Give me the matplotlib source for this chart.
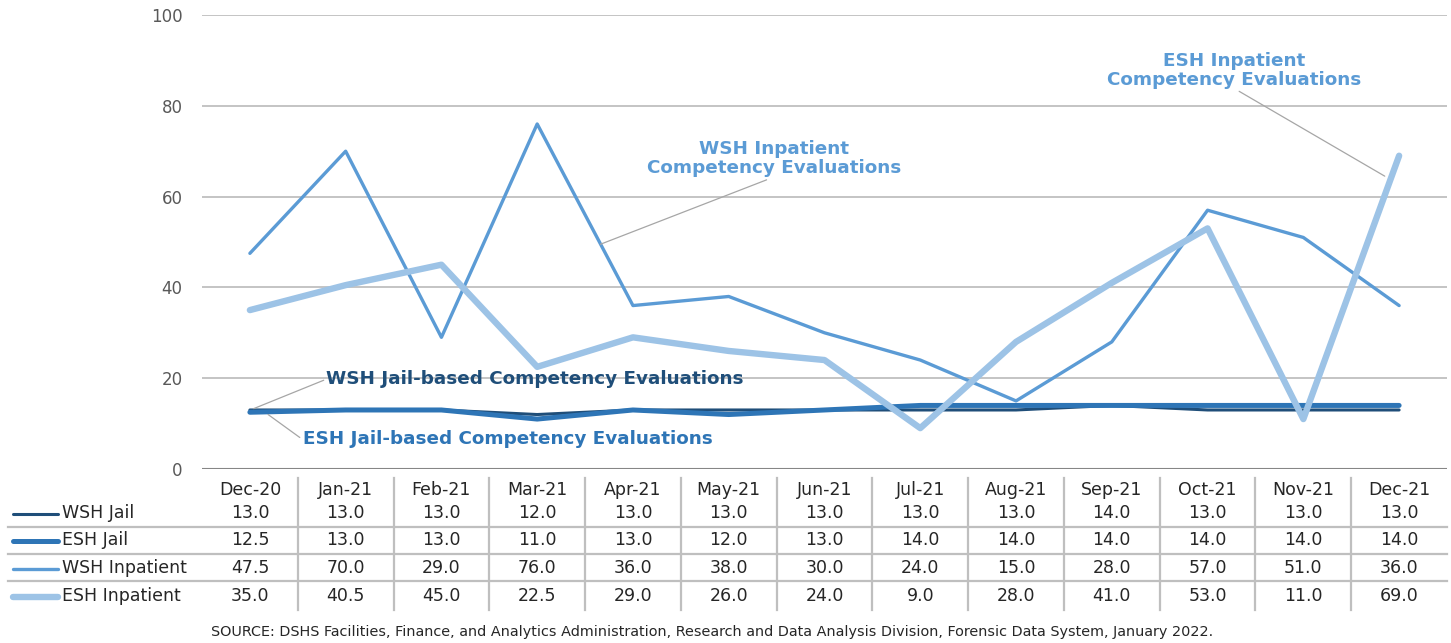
import matplotlib
matplotlib.use('Agg')
import matplotlib.pyplot as plt
from matplotlib.lines import Line2D
import matplotlib.transforms as mtransforms

plt.rcParams['font.family'] = ['DejaVu Sans']

months = ['Dec-20', 'Jan-21', 'Feb-21', 'Mar-21', 'Apr-21', 'May-21', 'Jun-21',
          'Jul-21', 'Aug-21', 'Sep-21', 'Oct-21', 'Nov-21', 'Dec-21']
wsh_jail = [13.0, 13.0, 13.0, 12.0, 13.0, 13.0, 13.0, 13.0, 13.0, 14.0, 13.0, 13.0, 13.0]
esh_jail = [12.5, 13.0, 13.0, 11.0, 13.0, 12.0, 13.0, 14.0, 14.0, 14.0, 14.0, 14.0, 14.0]
wsh_inpatient = [47.5, 70.0, 29.0, 76.0, 36.0, 38.0, 30.0, 24.0, 15.0, 28.0, 57.0, 51.0, 36.0]
esh_inpatient = [35.0, 40.5, 45.0, 22.5, 29.0, 26.0, 24.0, 9.0, 28.0, 41.0, 53.0, 11.0, 69.0]

series_names = ['WSH Jail', 'ESH Jail', 'WSH Inpatient', 'ESH Inpatient']
series_data = [wsh_jail, esh_jail, wsh_inpatient, esh_inpatient]
colors = ['#1F4E79', '#2E75B6', '#5B9BD5', '#9DC3E6']
widths = [2.2, 3.6, 2.4, 4.6]

W, H = 1451, 643
fig = plt.figure(figsize=(W / 100, H / 100), dpi=100)


def px(x0, y0, x1, y1):
    return [x0 / W, 1 - y1 / H, (x1 - x0) / W, (y1 - y0) / H]


ax = fig.add_axes(px(202, 15, 1447, 469))
x = list(range(len(months)))

for d, c, lw in zip(series_data, colors, widths):
    ax.plot(x, d, color=c, lw=lw, solid_capstyle='round', solid_joinstyle='round', zorder=3)

ax.set_xlim(-0.5, len(months) - 0.5)
ax.set_ylim(0, 100)
ax.set_yticks([0, 20, 40, 60, 80, 100])
ax.set_xticks([])
for s in ax.spines.values():
    s.set_visible(False)
for yv in [20, 40, 60, 80, 100]:
    ax.axhline(yv, color='#BFBFBF', lw=1.3, zorder=1)
ax.axhline(0, color='#868686', lw=1.5, zorder=1)
ax.tick_params(axis='y', length=0, pad=14, labelsize=12, labelcolor='#595959')


# annotations with leader lines
def lead(rel):
    return dict(arrowstyle='-', color='#A6A6A6', lw=0.9, shrinkA=0, shrinkB=0, relpos=rel)


ann = dict(fontsize=13.2, fontweight='bold', zorder=4)
ax.annotate('WSH Inpatient\nCompetency Evaluations', xy=(3.66, 49.5), xytext=(5.47, 64.3),
            ha='center', va='bottom', color='#5B9BD5', linespacing=1.05,
            arrowprops=lead((0.5, 0)), **ann)
ax.annotate('ESH Inpatient\nCompetency Evaluations', xy=(11.85, 64.5), xytext=(10.28, 83.8),
            ha='center', va='bottom', color='#5B9BD5', linespacing=1.05,
            arrowprops=lead((0.5, 0)), **ann)
ax.annotate('WSH Jail-based Competency Evaluations', xy=(0.04, 13.3), xytext=(0.8, 19.8),
            ha='left', va='center', color='#1F4E79', arrowprops=lead((0, 0.5)), **ann)
ax.annotate('ESH Jail-based Competency Evaluations', xy=(0.19, 12.0), xytext=(0.55, 6.5),
            ha='left', va='center', color='#2E75B6', arrowprops=lead((0, 0.5)), **ann)

# data table below the chart
tax = fig.add_axes(px(202, 476, 1447, 612))
tax.set_xlim(-0.5, len(months) - 0.5)
tax.set_ylim(136, 0)
tax.axis('off')
txt_color = '#262626'
header_y = 14
row_y = [37, 64, 92, 120]
for i, m in enumerate(months):
    tax.text(i, header_y, m, ha='center', va='center', fontsize=12.5, color=txt_color)
    for r, d in enumerate(series_data):
        tax.text(i, row_y[r], f'{d[i]:.1f}', ha='center', va='center', fontsize=12.5, color=txt_color)
for i in range(1, len(months)):
    tax.plot([i - 0.5, i - 0.5], [2, 134], color='#BFBFBF', lw=1.6, clip_on=False)

# row separators and legend keys span into the left margin
blend = mtransforms.blended_transform_factory(fig.transFigure, tax.transData)
for yv in [51, 78, 105]:
    tax.add_line(Line2D([8 / W, 1447 / W], [yv, yv], transform=blend, color='#BFBFBF',
                        lw=1.6, clip_on=False))
for r, name in enumerate(series_names):
    tax.add_line(Line2D([13 / W, 58 / W], [row_y[r] + 1, row_y[r] + 1], transform=blend,
                        color=colors[r], lw=widths[r], solid_capstyle='round', clip_on=False))
    tax.text(62 / W, row_y[r], name, transform=blend, ha='left', va='center',
             fontsize=12.5, color=txt_color)

fig.text(712 / W, 1 - 632 / H,
         'SOURCE: DSHS Facilities, Finance, and Analytics Administration, Research and Data '
         'Analysis Division, Forensic Data System, January 2022.',
         ha='center', va='center', fontsize=10.4, color='#262626')

fig.savefig('out.png', dpi=100)
